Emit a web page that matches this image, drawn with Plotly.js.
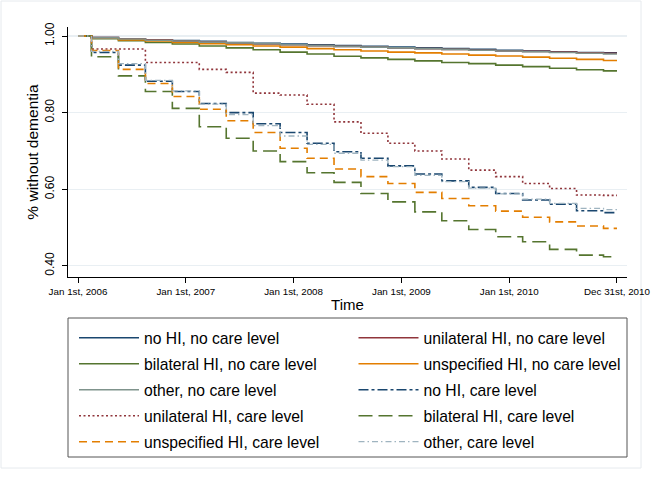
<!DOCTYPE html>
<html>
<head>
<meta charset="utf-8">
<script src="https://cdn.plot.ly/plotly-3.0.1.min.js"></script>
<style>
html,body{margin:0;padding:0;background:#fff;}
#chart{width:654px;height:477px;}
</style>
</head>
<body>
<div id="chart"></div>
<script>
// Time in years since Jan 1st, 2006 (start, then quarterly event times, then end of follow-up)
const times = [0, 0.125, 0.375, 0.625, 0.875, 1.125, 1.375, 1.625, 1.875, 2.125, 2.375,
               2.625, 2.875, 3.125, 3.375, 3.625, 3.875, 4.125, 4.375, 4.625, 4.875, 5];

const tickVals = [0, 1, 2, 3, 4, 5];
const tickText = ["Jan 1st, 2006", "Jan 1st, 2007", "Jan 1st, 2008", "Jan 1st, 2009", "Jan 1st, 2010", "Dec 31st, 2010"];

// Survival (share without dementia) per group
const noHI_noCare        = [1, 0.996, 0.993, 0.990, 0.988, 0.986, 0.983, 0.981, 0.979, 0.977, 0.975, 0.973, 0.971, 0.969, 0.967, 0.965, 0.963, 0.961, 0.959, 0.957, 0.956, 0.956];
const uniHI_noCare       = [1, 0.996, 0.993, 0.990, 0.987, 0.985, 0.982, 0.979, 0.977, 0.975, 0.973, 0.971, 0.969, 0.967, 0.965, 0.963, 0.961, 0.960, 0.958, 0.956, 0.955, 0.955];
const biHI_noCare        = [1, 0.993, 0.988, 0.983, 0.979, 0.974, 0.969, 0.964, 0.958, 0.953, 0.947, 0.943, 0.939, 0.935, 0.931, 0.928, 0.924, 0.920, 0.916, 0.912, 0.909, 0.909];
const unspecHI_noCare    = [1, 0.994, 0.990, 0.987, 0.983, 0.980, 0.977, 0.974, 0.971, 0.967, 0.964, 0.961, 0.958, 0.956, 0.953, 0.950, 0.948, 0.945, 0.942, 0.939, 0.936, 0.936];
const other_noCare       = [1, 0.995, 0.992, 0.989, 0.987, 0.984, 0.982, 0.980, 0.977, 0.975, 0.973, 0.971, 0.969, 0.967, 0.965, 0.963, 0.961, 0.959, 0.957, 0.955, 0.953, 0.953];
const noHI_care          = [1, 0.957, 0.924, 0.882, 0.855, 0.824, 0.800, 0.771, 0.748, 0.720, 0.698, 0.681, 0.661, 0.640, 0.622, 0.605, 0.589, 0.572, 0.561, 0.544, 0.539, 0.539];
const biHI_care          = [1, 0.946, 0.896, 0.855, 0.811, 0.763, 0.733, 0.700, 0.672, 0.643, 0.618, 0.589, 0.567, 0.541, 0.518, 0.495, 0.476, 0.463, 0.443, 0.428, 0.424, 0.424];
const uniHI_care         = [1, 0.966, 0.966, 0.931, 0.931, 0.913, 0.905, 0.851, 0.846, 0.822, 0.776, 0.746, 0.720, 0.700, 0.679, 0.650, 0.633, 0.615, 0.602, 0.585, 0.584, 0.584];
const unspecHI_care      = [1, 0.962, 0.913, 0.876, 0.842, 0.809, 0.779, 0.748, 0.707, 0.681, 0.653, 0.633, 0.615, 0.592, 0.576, 0.557, 0.543, 0.527, 0.515, 0.504, 0.498, 0.498];
const other_care         = [1, 0.960, 0.928, 0.884, 0.857, 0.822, 0.795, 0.766, 0.739, 0.717, 0.694, 0.676, 0.659, 0.636, 0.620, 0.603, 0.588, 0.574, 0.563, 0.550, 0.547, 0.547];

const yTickVals = [0.4, 0.6, 0.8, 1.0];
const yTickText = ["0.40", "0.60", "0.80", "1.00"];

const NAVY = "#1a476f", MAROON = "#90353b", GREEN = "#55752f", ORANGE = "#e37e00", TEAL = "#7f938c", LIGHT = "#9fb4c0";

function tr(name, y, color, dash, legend, width) {
  return {type: "scatter", mode: "lines", name: name, x: times, y: y, legend: legend,
          line: {shape: "hv", color: color, dash: dash, width: width || 1.6}};
}

const traces = [
  tr("no HI, no care level", noHI_noCare, NAVY, "solid", "legend"),
  tr("unilateral HI, no care level", uniHI_noCare, MAROON, "solid", "legend"),
  tr("bilateral HI, no care level", biHI_noCare, GREEN, "solid", "legend2"),
  tr("unspecified HI, no care level", unspecHI_noCare, ORANGE, "solid", "legend2"),
  tr("other, no care level", other_noCare, TEAL, "solid", "legend3"),
  tr("no HI, care level", noHI_care, NAVY, "10px,3px,3px,3px", "legend3"),
  tr("unilateral HI, care level", uniHI_care, MAROON, "2px,2.5px", "legend4"),
  tr("bilateral HI, care level", biHI_care, GREEN, "14px,6px", "legend4"),
  tr("unspecified HI, care level", unspecHI_care, ORANGE, "8px,5px", "legend5"),
  tr("other, care level", other_care, LIGHT, "6px,3px,1.5px,3px", "legend5", 1.3)
];

const W = 654, H = 477, L = 68, R = 27, T = 27, B = 200;
const pw = W - L - R, ph = H - T - B;
function px(x) { return (x - L) / pw; }
function py(y) { return (H - B - y) / ph; }

function leg(centerY) {
  return {
    orientation: "h",
    x: px(74), y: py(centerY), xanchor: "left", yanchor: "middle",
    xref: "paper", yref: "paper",
    entrywidth: 0.5, entrywidthmode: "fraction",
    itemwidth: 60,
    font: {size: 15.7, family: "Liberation Sans, Arial, sans-serif"},
    bgcolor: "rgba(0,0,0,0)", borderwidth: 0,
    traceorder: "normal"
  };
}

const layout = {
  width: W, height: H,
  margin: {l: L, r: R, t: T, b: B, pad: 0},
  paper_bgcolor: "#ffffff",
  plot_bgcolor: "#ffffff",
  font: {family: "Liberation Sans, Arial, sans-serif", color: "#000"},
  showlegend: true,
  xaxis: {
    range: [-0.093, 5.093],
    tickvals: tickVals, ticktext: tickText,
    ticks: "outside", ticklen: 5, tickcolor: "#000", tickwidth: 1,
    showline: true, linecolor: "#000", linewidth: 1,
    showgrid: false, zeroline: false,
    tickfont: {size: 9.8, family: "Liberation Sans, Arial, sans-serif"},
    title: {text: "Time", font: {size: 15}, standoff: 3}
  },
  yaxis: {
    range: [0.371, 1.0235],
    tickvals: yTickVals, ticktext: yTickText,
    tickangle: -90,
    ticks: "outside", ticklen: 5, tickcolor: "#000", tickwidth: 1,
    ticklabelstandoff: 3,
    showline: true, linecolor: "#000", linewidth: 1,
    showgrid: true, gridcolor: "#e9eff3", gridwidth: 1.2,
    zeroline: false,
    tickfont: {size: 12, family: "Liberation Sans, Arial, sans-serif"},
    title: {text: "% without dementia", font: {size: 15.5}, standoff: 0}
  },
  legend: leg(338),
  legend2: leg(364),
  legend3: leg(390),
  legend4: leg(416),
  legend5: leg(442),
  shapes: [
    {type: "rect", xref: "paper", yref: "paper", x0: px(68), x1: px(627), y0: py(318), y1: py(457),
     line: {color: "#555", width: 1}, fillcolor: "rgba(0,0,0,0)", layer: "below"},
    {type: "rect", xref: "paper", yref: "paper", x0: px(1), x1: px(641), y0: py(1), y1: py(468),
     line: {color: "#e6eaee", width: 1}, fillcolor: "rgba(0,0,0,0)", layer: "below"}
  ]
};

Plotly.newPlot("chart", traces, layout, {displayModeBar: false, staticPlot: true});
</script>
</body>
</html>
